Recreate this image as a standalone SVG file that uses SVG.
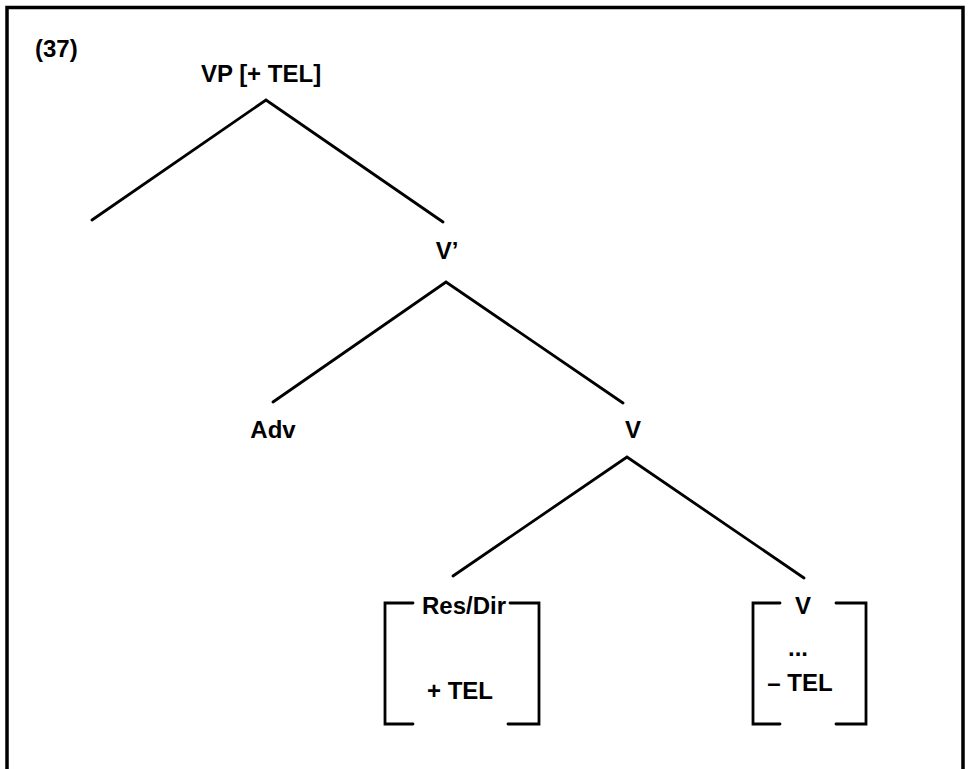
<svg xmlns="http://www.w3.org/2000/svg" width="968" height="769" viewBox="0 0 968 769">
<style>
.t{font-family:"Liberation Sans",Arial,sans-serif;font-weight:bold;font-size:24px;fill:#000}
.m{text-anchor:middle}
.l{stroke:#000;stroke-width:2.8;fill:none;stroke-linecap:round}
.f{stroke:#000;stroke-width:3.5;fill:none}
</style>
<rect width="968" height="769" fill="#fff"/>
<path class="f" d="M7,769 V7.5 H963 V769"/>
<text class="t" x="35" y="57">(37)</text>
<g id="vp"><text class="t m" x="261" y="82">VP [+ TEL]</text></g>
<g id="vbar"><text class="t m" x="447" y="259">V’</text></g>
<g id="adv"><text class="t m" x="273" y="438">Adv</text></g>
<g id="v1"><text class="t m" x="633" y="438">V</text></g>
<g id="resdir">
<path class="l" d="M413,603 H385 V724 H413 M510,603 H539 V724 H508"/>
<text class="t m" x="464" y="614">Res/Dir</text>
<text class="t m" x="460" y="699">+ TEL</text>
</g>
<g id="v2">
<path class="l" d="M780,603 H753 V724 H780 M836,603 H866 V724 H836"/>
<text class="t m" x="803" y="614">V</text>
<text class="t m" x="798" y="656">...</text>
<text class="t m" x="800" y="691">– TEL</text>
</g>
<g id="edges">
<path class="l" d="M92,220 L266,100 L443,222"/>
<path class="l" d="M273,402 L446,282 L623,403"/>
<path class="l" d="M453,576 L627,457 L804,578"/>
</g>
</svg>
